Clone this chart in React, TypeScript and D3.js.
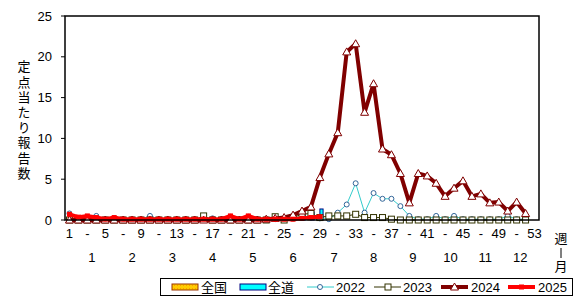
import React from "react";
import * as d3 from "d3";

const weeks = d3.range(1, 54);
const monthLabels = ["1", "2", "3", "4", "5", "6", "7", "8", "9", "10", "11", "12"];
const monthWeek = [3.5, 8, 12.5, 17, 21.5, 26, 30.6, 35, 39.4, 43.6, 47.5, 51.4];
const yTicks = [0, 5, 10, 15, 20, 25];

const zenkoku: (number | null)[] = [...Array(26).fill(null), 0.3, 0.4, 0.5];
const zendo: (number | null)[] = [...Array(26).fill(null), 0.6, 1.0, 1.35];

const s2022 = [0.8, 0.2, 0.2, 0.5, 0.1, 0.1, 0.1, 0.1, 0.1, 0.5,
  0.1, 0.1, 0.1, 0.1, 0.1, 0.1, 0.2, 0.1, 0.1, 0.1,
  0.1, 0.1, 0.1, 0.1, 0.2, 0.2, 0.3, 0.3, 0.2, 0.1,
  0.9, 1.9, 4.5, 0.9, 3.3, 2.6, 2.6, 1.7, 0.5, 0.1,
  0.1, 0.5, 0.1, 0.5, 0.1, 0.1, 0.1, 0.1, 0.1, 0.5,
  0.1, 0.1];
const s2023 = [0, 0, 0, 0, 0, 0, 0, 0, 0, 0,
  0, 0, 0, 0, 0, 0.5, 0, 0, 0, 0,
  0, 0, 0, 0.4, 0, 0.3, 0.7, 0.8, 0.3, 0.5,
  0.5, 0.5, 0.7, 0.3, 0.3, 0.3, 0.1, 0, 0, 0,
  0, 0, 0, 0, 0, 0, 0, 0, 0, 0,
  0, 0];
const s2024 = [0, 0, 0, 0, 0, 0, 0, 0, 0, 0,
  0, 0, 0, 0, 0, 0, 0, 0, 0, 0,
  0, 0, 0.1, 0.2, 0.3, 0.6, 1.1, 1.6, 5.2, 8.1,
  10.7, 20.6, 21.6, 13.2, 16.7, 8.7, 8.0, 5.7, 2.1, 5.7,
  5.4, 4.5, 2.9, 3.9, 4.8, 2.9, 3.2, 2.1, 2.2, 1.1,
  2.2, 0.8];
const s2025 = [0.7, 0.35, 0.5, 0.3, 0.1, 0.3, 0.1, 0.1, 0.1, 0.1,
  0.1, 0.1, 0.1, 0.1, 0.1, 0.1, 0.1, 0.1, 0.5, 0.1,
  0.5, 0.1, 0.1, 0.1, 0.1, 0.1, 0.2, 0.3, 0.4];

const FONT = "'Liberation Sans', 'Noto Sans CJK JP', sans-serif";
const JFONT = "'Noto Sans CJK JP', sans-serif";

export default function App() {
  const L = 65, R = 539, T = 16, B = 220;
  const x = d3.scaleBand<number>().domain(weeks).range([L, R]);
  const y = d3.scaleLinear().domain([0, 25]).range([B, T]);
  const cx = (w: number) => (x(w) as number) + x.bandwidth() / 2;
  const xLin = d3.scaleLinear().domain([1, 53]).range([cx(1), cx(53)]);
  const bw = 3.2;

  const line = d3.line<[number, number]>().x((d) => cx(d[0])).y((d) => y(d[1]));
  const pts = (arr: number[]) => arr.map((v, i) => [i + 1, v] as [number, number]);

  const tri = (px: number, py: number, k: string) => (
    <path key={k} d={`M${px},${py - 4}L${px + 4},${py + 3}L${px - 4},${py + 3}Z`} fill="#fff" stroke="#800000" strokeWidth={1} />
  );

  return (
    <svg width={579} height={299} style={{ position: "absolute", left: 0, top: 0, background: "#fff" }}>
      <defs>
        <pattern id="dots" width="3" height="3" patternUnits="userSpaceOnUse">
          <rect width="3" height="3" fill="#ffcc00" />
          <rect width="1" height="1" fill="#ff9900" />
        </pattern>
      </defs>
      {/* y axis ticks & labels */}
      {yTicks.map((t) => (
        <g key={t}>
          <line x1={L - 4} x2={L} y1={y(t)} y2={y(t)} stroke="#000" />
          <text x={52} y={y(t) + 4.5} textAnchor="end" fontSize={13} fontFamily={FONT}>{t}</text>
        </g>
      ))}
      {/* y title */}
      <text x={24} y={60} fontSize={13} fontFamily={JFONT} style={{ writingMode: "vertical-rl" }} letterSpacing={2.2}>
        定点当たり報告数
      </text>
      {/* x labels */}
      {weeks.filter((w) => w % 2 === 1).map((w) => (
        <text key={w} x={cx(w)} y={238} textAnchor="middle" fontSize={13} fontFamily={FONT}>
          {(w - 1) % 4 === 0 ? String(w) : "-"}
        </text>
      ))}
      {monthLabels.map((m, i) => (
        <text key={m} x={xLin(monthWeek[i])} y={262} textAnchor="middle" fontSize={13} fontFamily={FONT}>{m}</text>
      ))}
      <text x={561} y={243} textAnchor="middle" fontSize={13} fontFamily={JFONT}>週</text>
      <line x1={561} x2={561} y1={248} y2={258} stroke="#000" />
      <text x={561} y={271} textAnchor="middle" fontSize={13} fontFamily={JFONT}>月</text>

      {/* bars */}
      {zenkoku.map((v, i) => v == null ? null : (
        <rect key={"zk" + i} x={cx(i + 1) - bw} y={y(v)} width={bw} height={B - y(v)} fill="url(#dots)" stroke="#993300" strokeWidth={0.8} />
      ))}
      {zendo.map((v, i) => v == null ? null : (
        <rect key={"zd" + i} x={cx(i + 1)} y={y(v)} width={bw} height={B - y(v)} fill="#00ffff" stroke="#000080" strokeWidth={1} />
      ))}

      {/* 2022 */}
      <path d={line(pts(s2022)) || ""} fill="none" stroke="#33cccc" strokeWidth={1} />
      {pts(s2022).map((d) => (
        <circle key={"a" + d[0]} cx={cx(d[0])} cy={y(d[1])} r={2.5} fill="#fff" stroke="#336699" strokeWidth={1} />
      ))}
      {/* 2023 */}
      <path d={line(pts(s2023)) || ""} fill="none" stroke="#333300" strokeWidth={1} />
      {pts(s2023).map((d) => (
        <rect key={"b" + d[0]} x={cx(d[0]) - 3} y={y(d[1]) - 3} width={6} height={6} fill="#fff" stroke="#333300" strokeWidth={1} />
      ))}
      {/* 2024 */}
      <path d={line(pts(s2024)) || ""} fill="none" stroke="#800000" strokeWidth={4} strokeLinejoin="round" />
      {pts(s2024).map((d) => tri(cx(d[0]), y(d[1]), "c" + d[0]))}
      {/* 2025 */}
      <path d={line(pts(s2025)) || ""} fill="none" stroke="#ff0000" strokeWidth={4} />
      {pts(s2025).map((d) => (
        <rect key={"d" + d[0]} x={cx(d[0]) - 2.5} y={y(d[1]) - 2.5} width={5} height={5} fill="#ff0000" />
      ))}

      {/* frame */}
      <rect x={L} y={T} width={R - L} height={B - T} fill="none" stroke="#000" strokeWidth={1.5} />

      {/* legend */}
      <rect x={160.5} y={278.5} width={412} height={17} fill="#fff" stroke="#000" strokeWidth={1} />
      <rect x={172} y={284} width={26} height={6} fill="url(#dots)" stroke="#993300" strokeWidth={1} />
      <text x={201} y={292} fontSize={13} fontFamily={JFONT}>全国</text>
      <rect x={240} y={284} width={26} height={6} fill="#00ffff" stroke="#000080" strokeWidth={1} />
      <text x={268} y={292} fontSize={13} fontFamily={JFONT}>全道</text>
      <line x1={307} x2={334} y1={287} y2={287} stroke="#33cccc" />
      <circle cx={320} cy={287} r={2.5} fill="#fff" stroke="#336699" />
      <text x={336} y={292} fontSize={13} fontFamily={FONT}>2022</text>
      <line x1={374} x2={401} y1={287} y2={287} stroke="#333300" />
      <rect x={385} y={284} width={6} height={6} fill="#fff" stroke="#333300" />
      <text x={403} y={292} fontSize={13} fontFamily={FONT}>2023</text>
      <line x1={441} x2={468} y1={287} y2={287} stroke="#800000" strokeWidth={4} />
      {tri(454.5, 287, "lt")}
      <text x={471} y={292} fontSize={13} fontFamily={FONT}>2024</text>
      <line x1={508} x2={535} y1={287} y2={287} stroke="#ff0000" strokeWidth={4} />
      <rect x={519} y={284.5} width={5} height={5} fill="#ff0000" />
      <text x={538} y={292} fontSize={13} fontFamily={FONT}>2025</text>
    </svg>
  );
}
